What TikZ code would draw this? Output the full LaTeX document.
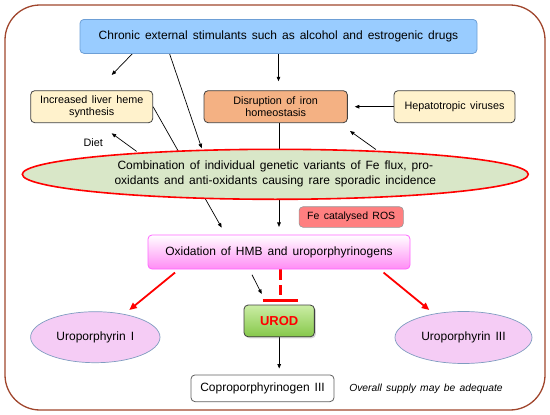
\documentclass[tikz,border=0pt]{standalone}
\usepackage{fontspec}
\setmainfont{Liberation Sans}[WordSpace=1.5]
\usetikzlibrary{arrows.meta,shapes.geometric,shadows}
\definecolor{outerc}{HTML}{A0462D}
\definecolor{topfill}{HTML}{99CCFF}
\definecolor{topdraw}{HTML}{6D9FD6}
\definecolor{creamfill}{HTML}{FFF2CC}
\definecolor{boxdraw}{HTML}{404040}
\definecolor{orangefill}{HTML}{F4B183}
\definecolor{greenfill}{HTML}{D9E7C8}
\definecolor{rosfill}{HTML}{FF7F80}
\definecolor{rosdraw}{HTML}{999999}
\definecolor{pinkdraw}{HTML}{FF66FF}
\definecolor{pinkfill}{HTML}{FF8CF5}
\definecolor{urodtop}{HTML}{CBEDA5}
\definecolor{urodbot}{HTML}{86C84A}
\definecolor{urofill}{HTML}{F5CCF5}
\definecolor{urodraw}{HTML}{7F9CC0}
\definecolor{coprodraw}{HTML}{606060}
\newcommand\myfs[2]{\fontsize{#1}{#2}\selectfont}
\pgfdeclarelayer{bg}
\pgfsetlayers{bg,main}
\tikzset{
  outerbox/.style={draw=outerc, line width=1.3pt, rounded corners=35pt},
  box/.style={draw=boxdraw, line width=0.8pt, rounded corners=4pt, inner sep=0pt, align=center},
  arr/.style={-{Triangle[length=4.5pt,width=3.6pt]}, line width=0.7pt, black},
  redarr/.style={-{Triangle[length=7.5pt,width=6.5pt]}, line width=1.8pt, red},
  inh/.style={red, line width=2.8pt, dash pattern=on 11pt off 4.7pt},
  inhbar/.style={red, line width=3.3pt},
}
\begin{document}
\begin{tikzpicture}[x=1pt,y=-1pt]
\useasboundingbox (0,0) rectangle (550,415);
\draw[outerbox] (5,5) rectangle (545,410);

\node[box, draw=topdraw, fill=topfill, minimum width=397pt, minimum height=34pt, font=\myfs{12}{14}] (top) at (278.5,36.4) {Chronic external stimulants such as alcohol and estrogenic drugs};
\node[box, fill=creamfill, minimum width=122pt, minimum height=32pt, font=\myfs{10.8}{12.7}] (liver) at (91.7,106.7) {Increased liver heme\\synthesis};
\node[box, fill=orangefill, minimum width=143.3pt, minimum height=32pt, font=\myfs{10.8}{12.7}] (disr) at (275.7,106.7) {Disruption of iron\\homeostasis};
\node[box, fill=creamfill, minimum width=121pt, minimum height=32pt, font=\myfs{10.8}{12.7}] (hep) at (454.5,106.7) {Hepatotropic viruses};
\node[ellipse, draw=red, line width=1.6pt, fill=greenfill, minimum width=506pt, minimum height=50pt, inner sep=0pt, align=center, font=\myfs{12}{15}] (ell) at (275.3,174.3) {Combination of individual genetic variants of Fe flux, pro-\\oxidants and anti-oxidants causing rare sporadic incidence};
\node[box, draw=rosdraw, fill=rosfill, line width=0.6pt, minimum width=104.3pt, minimum height=20.6pt, font=\myfs{10.5}{12}] (ros) at (351.2,217) {Fe catalysed ROS};
\node[box, draw=pinkdraw, top color=white, middle color=white!90!pinkfill, bottom color=pinkfill, minimum width=262pt, minimum height=34pt, font=\myfs{12}{14}] (ox) at (279,252) {Oxidation of HMB and uroporphyrinogens};
\node[box, top color=urodtop, bottom color=urodbot, minimum width=70.3pt, minimum height=31.7pt, font=\bfseries\myfs{13}{15}, text=red, drop shadow={shadow xshift=1.5pt, shadow yshift=-1.5pt, opacity=0.35}] (urod) at (279.2,320.9) {UROD};
\node[ellipse, draw=urodraw, fill=urofill, line width=0.7pt, minimum width=129.4pt, minimum height=51pt, inner sep=0pt, font=\myfs{12}{14}] (uroI) at (95.3,337.2) {Uroporphyrin I};
\node[ellipse, draw=urodraw, fill=urofill, line width=0.7pt, minimum width=137pt, minimum height=52pt, inner sep=0pt, font=\myfs{12}{14}] (uroIII) at (463.5,337.5) {Uroporphyrin III};
\node[box, draw=coprodraw, fill=white, minimum width=143pt, minimum height=26.7pt, font=\myfs{12}{14}] (copro) at (262.5,388.3) {Coproporphyrinogen III};
\node[inner sep=0pt, font=\myfs{10.8}{12}] (diet) at (93.3,142.7) {Diet};
\node[inner sep=0pt, font=\itshape\myfs{10.3}{12}] (note) at (426,389) {Overall supply may be adequate};

\coordinate (hemeTip) at (111.7,75);
\coordinate (ellTip) at (201.7,148.3);
\coordinate (hemeIn) at (111.7,133.3);
\coordinate (disrIn) at (350,131);
\coordinate (uroIin) at (129.3,310);
\coordinate (uroIIIin) at (429.3,310);
\coordinate (urodIn) at (261.7,294);
\coordinate (inhib) at (280.5,300.7);

\begin{pgfonlayer}{bg}
\draw[arr] ([xshift=52.7pt]top.south west) -- (hemeTip);
\draw[arr] ([xshift=90pt]top.south west) -- (ellTip);
\draw[arr, shorten >=9pt] (top.south) -- (top.south |- disr.north);
\draw[arr, shorten >=7pt] (hep.west) -- (disr.east);
\draw[arr, shorten >=8pt] (liver.east) -- ([xshift=78pt]ox.north west);
\draw[arr, shorten >=7.7pt] (disr.south -| ox.north) -- (ox.north);
\draw[arr, shorten <=2pt] (ell.171) -- (hemeIn);
\draw[arr, shorten <=2pt] (ell.13) -- (disrIn);
\draw[redarr, shorten <=5pt] ([xshift=31.3pt]ox.south west) -- (uroIin);
\draw[redarr, shorten <=5pt] ([xshift=-30.7pt]ox.south east) -- (uroIIIin);
\draw[arr, shorten <=6pt] ([xshift=-29.7pt]ox.south) -- (urodIn);
\draw[inh, shorten >=5.7pt] (ox.south -| inhib) -- (inhib);
\draw[inhbar] ([xshift=-17.8pt]inhib) -- ([xshift=17.8pt]inhib);
\draw[arr, shorten >=6pt] (urod.south) -- (urod.south |- copro.north);
\end{pgfonlayer}
\end{tikzpicture}
\end{document}
